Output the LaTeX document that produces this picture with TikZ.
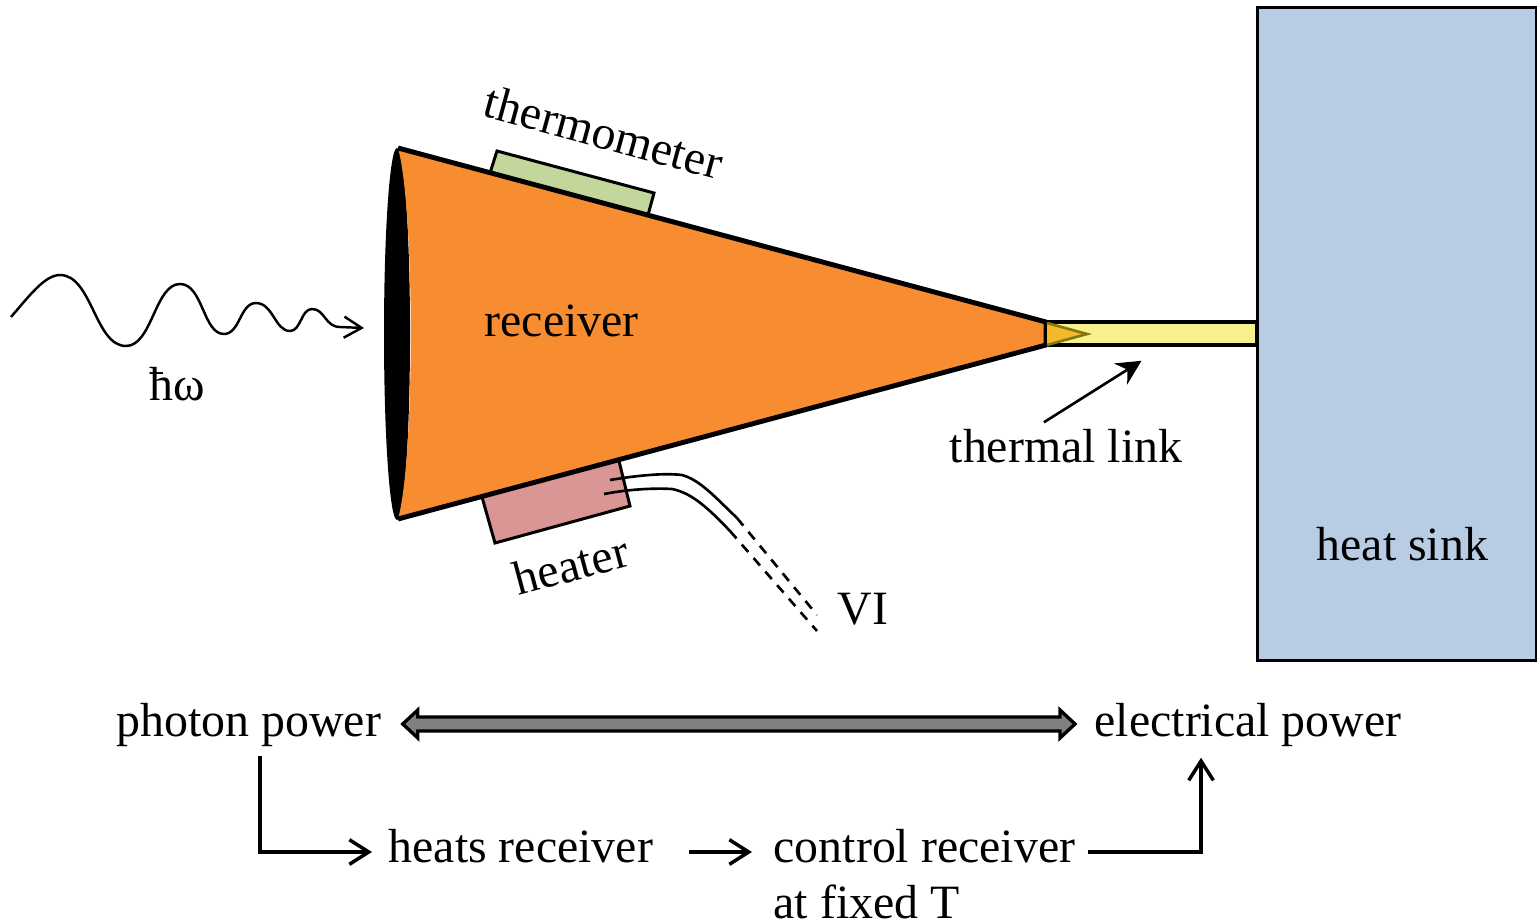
\documentclass[tikz,border=0pt]{standalone}
\usepackage{fontspec}
\setmainfont{Liberation Serif}
\usetikzlibrary{shapes, arrows.meta, positioning, calc}
\definecolor{coneorange}{RGB}{247,140,48}
\definecolor{sinkblue}{RGB}{184,204,228}
\definecolor{linkyellow}{RGB}{247,241,139}
\definecolor{tipyellow}{RGB}{244,185,43}
\definecolor{tipolive}{RGB}{128,120,20}
\definecolor{thermogreen}{RGB}{195,214,155}
\definecolor{heaterpink}{RGB}{217,150,148}
\begin{document}
\begin{tikzpicture}[
  x=0.01cm, y=-0.01cm,
  lbl/.style={inner sep=0pt, text height=0.28cm, text depth=0.08cm, font=\fontsize{13.6}{16}\selectfont, anchor=base west},
  tilted/.style={inner sep=0pt, font=\fontsize{13.6}{16}\selectfont},
  patch/.style={draw=black, line width=0.85pt},
  wire/.style={line width=0.75pt},
  arr/.style={-{Straight Barb[length=5.5pt, width=7pt]}, line width=1pt},
  thin arr/.style={-{Straight Barb[length=5pt, width=6pt]}, line width=0.7pt}
]
\useasboundingbox (0,0) rectangle (1537,921);

% Heat sink and thermal link
\node[rectangle, patch, fill=sinkblue, minimum width=2.78cm, minimum height=6.52cm, inner sep=0pt] (sink) at (1397,334) {};
\node[rectangle, patch, line width=1pt, fill=linkyellow, minimum width=2.11cm, minimum height=0.23cm, inner sep=0pt] (link) at (1151.5,333.5) {};

% Patches on the cone
\draw[patch, fill=thermogreen] (490,173) -- (497,151) -- (654,193) -- (648,215);
\draw[patch, fill=heaterpink] (619,461) -- (630,506) -- (495,543) -- (482,497);

% Cone
\fill[black] (397,334) ellipse (13 and 186);
\fill[coneorange] (398,148) -- (1046,322) -- (1046,345) -- (398,519) .. controls (415,458) and (415,210) .. (398,148) -- cycle;
\draw[line width=1.4pt, line join=round] (398,148) -- (1046,322) -- (1046,345) -- (398,519);
\fill[tipyellow] (1047,323) -- (1087,334) -- (1047,345) -- cycle;
\draw[line width=0.75pt, tipolive] (1047,323) -- (1087,334) -- (1047,345);

% Wires
\draw[wire] (610,480) .. controls (640,475) and (665,473) .. (682,475) .. controls (700,480) and (715,497) .. (737,518);
\draw[wire] (604,494) .. controls (630,489) and (655,488) .. (672,489) .. controls (692,493) and (708,508) .. (730,531);
\draw[wire, dash pattern=on 2.8pt off 2.3pt] (737,518) -- (817,615);
\draw[wire, dash pattern=on 2.8pt off 2.3pt] (730,531) -- (817,631);

% Photon
\draw[thin arr] (11,317) .. controls (30,295) and (45,275) .. (60,275) .. controls (92,275) and (95,346) .. (126,346) .. controls (152,346) and (155,284) .. (180,284) .. controls (203,284) and (203,334) .. (224,334) .. controls (240,334) and (240,303) .. (256,303) .. controls (273,303) and (275,331) .. (290,331) .. controls (301,331) and (301,309) .. (312,309) .. controls (325,309) and (325,327) .. (340,327) -- (364,328);

% Labels
\node[tilted, rotate=-15.2] (thermometer) at (604,132) {thermometer};
\node[tilted, rotate=15] (heater) at (571,565) {heater};
\node[lbl] (receiver) at (484,336) {receiver};
\node[lbl] (photon) at (149,400) {ħω};
\node[lbl] (thermal) at (949,462) {thermal link};
\node[lbl] (sinklabel) at (1316,560) {heat sink};
\node[lbl] (vi) at (837,624) {VI};

% Power balance
\node[lbl] (photonpower) at (116,736) {photon power};
\node[lbl] (electrical) at (1094,736) {electrical power};
\node[lbl] (heats) at (388,862) {heats receiver};
\node[lbl] (control) at (773,862) {control receiver};
\node[lbl, text depth=0pt] (fixedT) at (773,918) {at fixed T};
\coordinate (balleft) at ([xshift=0.21cm, yshift=0.02cm]photonpower.east);
\coordinate (balright) at ([xshift=-0.19cm, yshift=0.02cm]electrical.west);
\draw[line width=0.95pt, fill=gray, line join=miter] (balleft) -- ++(15,-14) -- ++(0,7) -- ($(balright)+(-15,-7)$) -- ++(0,-7) -- (balright) -- ++(-15,14) -- ++(0,-7) -- ($(balleft)+(15,7)$) -- ++(0,7) -- cycle;

\draw[-{Stealth[length=7pt, width=7pt]}, line width=0.75pt] ([xshift=-0.22cm, yshift=0.11cm]thermal.north) -- ([xshift=-0.1cm, yshift=-0.14cm]link.south);
\draw[arr, shorten <=0.11cm, shorten >=0.16cm] ([xshift=0.11cm]photonpower.south) |- (heats.west);
\draw[arr, shorten <=0.35cm, shorten >=0.21cm] (heats.east) -- (control.west);
\draw[arr, shorten <=0.12cm, shorten >=0.13cm] (control.east) -| ([xshift=-0.47cm]electrical.south);
\end{tikzpicture}
\end{document}
